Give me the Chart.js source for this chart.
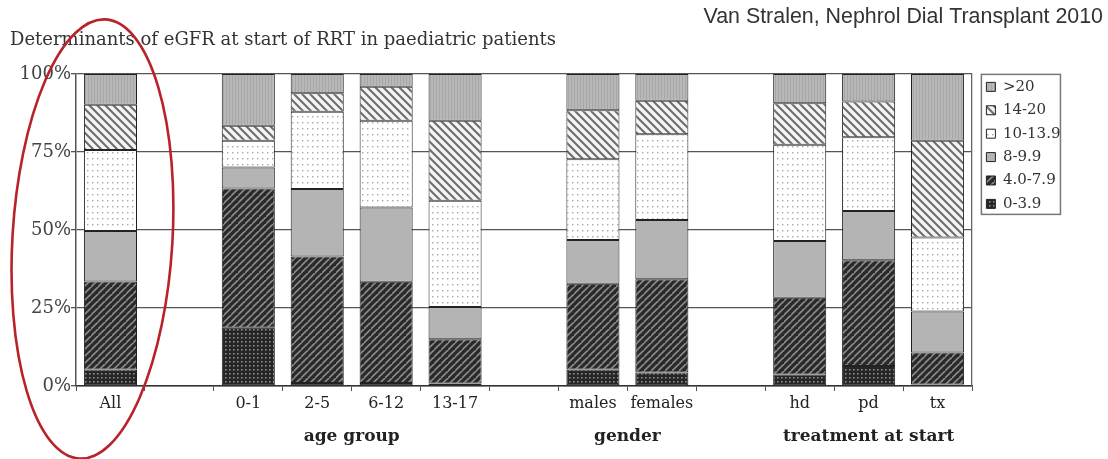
<!DOCTYPE html>
<html>
<head>
<meta charset="utf-8">
<script src="https://cdn.jsdelivr.net/npm/chart.js@4.4.1/dist/chart.umd.min.js"></script>
<style>
  html, body { margin: 0; padding: 0; background: #ffffff; }
  #wrap { width: 1108px; height: 459px; position: relative; }
</style>
</head>
<body>
<div id="wrap"><canvas id="c" width="1108" height="459"></canvas></div>
<script>
// ---- data ----
const categories = ['All', '', '0-1', '2-5', '6-12', '13-17', '', 'males', 'females', '', 'hd', 'pd', 'tx'];
const seriesNames = ['0-3.9', '4.0-7.9', '8-9.9', '10-13.9', '14-20', '>20'];
const s0to39   = [5.3, null, 18.7, 1.0, 1.0, 0.8, null, 5.3, 4.3, null, 3.7, 6.4, 0.5];
const s4to79   = [28.2, null, 44.6, 40.5, 32.4, 14.2, null, 27.5, 29.9, null, 24.6, 33.9, 10.2];
const s8to99   = [16.2, null, 6.7, 21.6, 23.8, 10.3, null, 14.0, 19.0, null, 18.2, 15.8, 13.2];
const s10to139 = [25.9, null, 8.6, 24.8, 27.8, 34.1, null, 25.9, 27.5, null, 30.8, 23.6, 23.7];
const s14to20  = [14.5, null, 4.8, 5.9, 10.9, 25.6, null, 15.7, 10.7, null, 13.3, 11.5, 31.0];
const sOver20  = [9.9, null, 16.6, 6.2, 4.1, 15.0, null, 11.6, 8.6, null, 9.4, 8.8, 21.4];
const yTicks = [0, 25, 50, 75, 100];
const groupNames = ['age group', 'gender', 'treatment at start'];
const groupPositions = [3.5, 7.5, 11];   // in category-index units

// half-step label row for the group axis (index k <-> category position -0.5 + k/2)
const groupRow = [];
for (let k = 0; k <= categories.length * 2; k++) {
  const pos = -0.5 + k / 2;
  const gi = groupPositions.indexOf(pos);
  groupRow.push(gi >= 0 ? groupNames[gi] : '');
}

// ---- patterns ----
function makePattern(w, h, drawFn) {
  const c = document.createElement('canvas');
  c.width = w; c.height = h;
  const g = c.getContext('2d');
  drawFn(g, w, h);
  return g.createPattern(c, 'repeat');
}
const pDarkDots = makePattern(4, 4, (g, w, h) => {
  g.fillStyle = '#262626'; g.fillRect(0, 0, w, h);
  g.fillStyle = '#8c8c8c'; g.fillRect(1, 1, 1.6, 1.6);
});
const pDarkStripes = makePattern(7, 7, (g, w, h) => {
  g.fillStyle = '#2a2a2a'; g.fillRect(0, 0, w, h);
  g.strokeStyle = '#8a8a8a'; g.lineWidth = 1.6;
  g.beginPath();
  g.moveTo(-1, h + 1); g.lineTo(w + 1, -1);
  g.moveTo(-1 - w, h + 1); g.lineTo(1, -1);
  g.moveTo(w - 1, 2 * h + 1); g.lineTo(2 * w + 1, h - 1);
  g.stroke();
});
const pGray = '#b4b4b4';
const pLightDots = makePattern(5, 6, (g, w, h) => {
  g.fillStyle = '#ffffff'; g.fillRect(0, 0, w, h);
  g.fillStyle = '#a8a8a8'; g.fillRect(2, 2, 1.4, 1.4);
});
const pLightStripes = makePattern(8, 8, (g, w, h) => {
  g.fillStyle = '#f4f4f4'; g.fillRect(0, 0, w, h);
  g.strokeStyle = '#6c6c6c'; g.lineWidth = 2;
  g.beginPath();
  g.moveTo(-1, -1); g.lineTo(w + 1, h + 1);
  g.moveTo(-1 - w, -1); g.lineTo(1, h + 1);
  g.moveTo(w - 1, -1); g.lineTo(2 * w + 1, h + 1);
  g.stroke();
});
const pVert = makePattern(3, 3, (g, w, h) => {
  g.fillStyle = '#b8b8b8'; g.fillRect(0, 0, w, h);
  g.fillStyle = '#a6a6a6'; g.fillRect(1, 0, 1, h);
});
const fills = [pDarkDots, pDarkStripes, pGray, pLightDots, pLightStripes, pVert];
const seriesData = [s0to39, s4to79, s8to99, s10to139, s14to20, sOver20];

const datasets = seriesNames.map((name, i) => ({
  label: name,
  data: seriesData[i],
  backgroundColor: fills[i],
  borderColor: '#222222',
  borderWidth: 1,
  borderSkipped: false,
  categoryPercentage: 1.0,
  barPercentage: 0.77
}));

const SERIF = '"DejaVu Serif", "Liberation Serif", serif';

const legendFixPlugin = {
  id: 'legendFix',
  beforeUpdate(chart) {
    const lg = chart.legend;
    if (lg && !lg._patched) {
      const orig = lg.fit;
      lg.fit = function () { orig.call(this); this.width = 125; };
      lg._patched = true;
    }
  },
  afterLayout(chart) {
    const lg = chart.legend;
    if (lg) {
      lg.top = chart.chartArea.top - 3;
      lg.bottom = chart.height;
      lg.height = lg.bottom - lg.top;
    }
  }
};

const decorPlugin = {
  id: 'decor',
  afterDraw(chart) {
    const ctx = chart.ctx;
    // legend frame
    const lg = chart.legend;
    if (lg && lg.legendHitBoxes && lg.legendHitBoxes.length) {
      let minX = Infinity, maxX = -Infinity, minY = Infinity, maxY = -Infinity;
      lg.legendHitBoxes.forEach(b => {
        minX = Math.min(minX, b.left); maxX = Math.max(maxX, b.left + b.width);
        minY = Math.min(minY, b.top); maxY = Math.max(maxY, b.top + b.height);
      });
      ctx.save();
      ctx.strokeStyle = '#777777';
      ctx.lineWidth = 1.5;
      ctx.strokeRect(minX - 5, minY - 5, (maxX - minX) + 5, (maxY - minY) + 8);
      ctx.restore();
    }
    // red annotation ellipse around the "All" bar
    const xs = chart.scales.x;
    const ca = chart.chartArea;
    const cx = xs.getPixelForValue(0) - 18;
    const cy = (ca.top + ca.bottom) / 2 + 9;
    ctx.save();
    ctx.strokeStyle = '#b8232b';
    ctx.lineWidth = 2.6;
    ctx.beginPath();
    ctx.ellipse(cx, cy, 80, 220, 0.06, 0, Math.PI * 2);
    ctx.stroke();
    ctx.restore();
  }
};

new Chart(document.getElementById('c'), {
  type: 'bar',
  data: { labels: categories, datasets },
  plugins: [legendFixPlugin, decorPlugin],
  options: {
    responsive: false,
    animation: false,
    layout: { padding: { left: 10, right: 5, top: 0, bottom: 0 } },
    plugins: {
      tooltip: { enabled: false },
      title: {
        display: true,
        text: 'Van Stralen, Nephrol Dial Transplant 2010',
        align: 'end',
        color: '#333333',
        font: { family: '"Liberation Sans", Arial, sans-serif', size: 21.4, weight: 'normal' },
        padding: { top: 4, bottom: 0 }
      },
      subtitle: {
        display: true,
        text: 'Determinants of eGFR at start of RRT in paediatric patients',
        align: 'start',
        color: '#333333',
        font: { family: SERIF, size: 18 },
        padding: { top: 0, bottom: 22.7 }
      },
      legend: {
        display: true,
        position: 'right',
        align: 'start',
        reverse: true,
        labels: {
          boxWidth: 9,
          boxHeight: 9,
          padding: 8.4,
          color: '#333333',
          font: { family: SERIF, size: 15 }
        }
      }
    },
    scales: {
      x: {
        type: 'category',
        stacked: true,
        position: 'bottom',
        offset: true,
        grid: { display: true, drawOnChartArea: false, drawTicks: true, tickLength: 5, color: '#555555', lineWidth: 1 },
        border: { display: true, color: '#333333', width: 1.5 },
        ticks: { autoSkip: false, maxRotation: 0, padding: 3, color: '#222222', font: { family: SERIF, size: 16 } },
        afterFit(scale) { scale.height = 40; }
      },
      x2: {
        type: 'category',
        labels: groupRow,
        position: 'bottom',
        offset: false,
        grid: { display: false, drawTicks: false },
        border: { display: false },
        ticks: {
          autoSkip: false,
          maxRotation: 0,
          padding: 0,
          color: '#222222',
          font: { family: SERIF, size: 17, weight: 'bold' }
        },
        afterFit(scale) { scale.height = 33; }
      },
      y: {
        stacked: true,
        min: 0,
        max: 100,
        position: 'left',
        afterBuildTicks(scale) { scale.ticks = yTicks.map(v => ({ value: v })); },
        grid: { color: '#555555', lineWidth: 1.3, tickLength: 5, drawTicks: true },
        border: { display: true, color: '#555555', width: 1.5 },
        ticks: {
          padding: 0,
          color: '#444444',
          font: { family: SERIF, size: 18 },
          callback(v) { return v + '%'; }
        },
        afterFit(scale) { scale.width = 66; }
      },
      y2: {
        position: 'right',
        min: 0,
        max: 100,
        grid: { display: false, drawTicks: false },
        border: { display: true, color: '#666666', width: 1.3 },
        ticks: { display: false },
        afterFit(scale) { scale.width = 6; }
      }
    }
  }
});
</script>
</body>
</html>
